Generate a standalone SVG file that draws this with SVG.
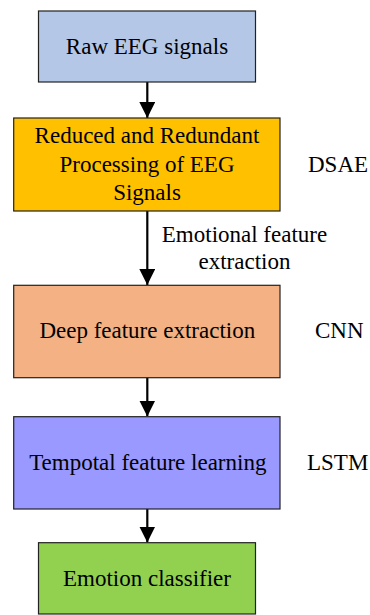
<svg xmlns="http://www.w3.org/2000/svg" width="370" height="615" viewBox="0 0 370 615">
<style>
.box{stroke:#222;stroke-width:1.2}
.t{font-size:23px;fill:#000}
.m{text-anchor:middle}
.c{stroke:#000;stroke-width:2.2;fill:none}
</style>
<defs>
<marker id="ah" markerUnits="userSpaceOnUse" markerWidth="16" markerHeight="16" viewBox="0 0 16 16" refX="16" refY="8" orient="auto">
<path d="M0,0 L16,8 L0,16 Z" fill="#000"/>
</marker>
</defs>
<rect width="370" height="615" fill="#fff"/>
<g id="connectors">
<line class="c" x1="147.3" y1="82" x2="147.3" y2="118" marker-end="url(#ah)"/>
<line class="c" x1="147.3" y1="211" x2="147.3" y2="285" marker-end="url(#ah)"/>
<line class="c" x1="147.3" y1="378" x2="147.3" y2="416.5" marker-end="url(#ah)"/>
<line class="c" x1="147.3" y1="509" x2="147.3" y2="542.5" marker-end="url(#ah)"/>
</g>
<g font-family="Liberation Serif, Times New Roman, serif">
<g id="raw">
<rect class="box" x="38.5" y="11" width="217" height="71" fill="#b4c7e7"/>
<text class="t m" x="147" y="54">Raw EEG signals</text>
</g>
<g id="dsae">
<rect class="box" x="13.7" y="118" width="266.3" height="93" fill="#ffc000"/>
<text class="t m" x="147" y="143.3">Reduced and Redundant</text>
<text class="t m" x="147" y="171.7">Processing of EEG</text>
<text class="t m" x="147" y="200">Signals</text>
</g>
<text class="t" x="308" y="172">DSAE</text>
<text class="t m" x="244.5" y="241.7">Emotional feature</text>
<text class="t m" x="244.5" y="269.3">extraction</text>
<g id="cnn">
<rect class="box" x="13.7" y="285.3" width="266.3" height="92.4" fill="#f4b183"/>
<text class="t m" x="147.3" y="338.3">Deep feature extraction</text>
</g>
<text class="t" x="315" y="338.3">CNN</text>
<g id="lstm">
<rect class="box" x="13.7" y="416.7" width="266.3" height="92.3" fill="#9999ff"/>
<text class="t m" x="147.8" y="470">Tempotal feature learning</text>
</g>
<text class="t" x="307" y="470">LSTM</text>
<g id="classifier">
<rect class="box" x="38.5" y="542.7" width="217" height="71.3" fill="#92d050"/>
<text class="t m" x="147" y="586">Emotion classifier</text>
</g>
</g>
</svg>
